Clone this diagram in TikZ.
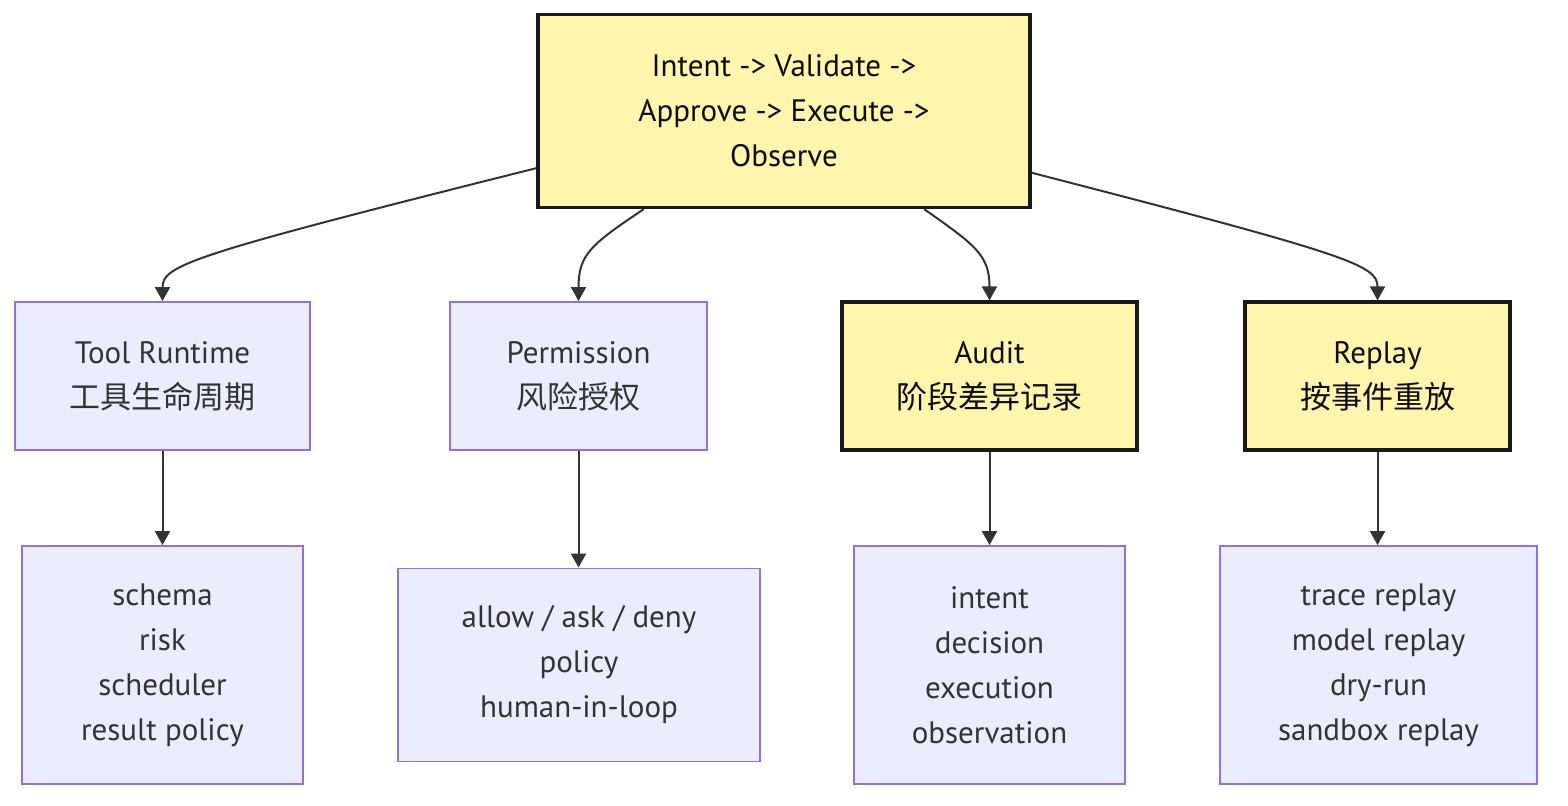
\documentclass[tikz,border=0pt]{standalone}
\usepackage{fontspec}
\setmainfont{PT Sans}
\newfontfamily\cjk{Noto Sans CJK SC}
\usetikzlibrary{arrows.meta}
\definecolor{yfill}{HTML}{FFF5AD}
\definecolor{pfill}{HTML}{ECECFF}
\definecolor{pline}{HTML}{9370DB}
\definecolor{eline}{HTML}{333333}
\begin{document}
\begin{tikzpicture}[
  x=0.5pt, y=-0.5pt,
  box/.style={rectangle, inner sep=0pt, align=center, font=\fontsize{15.5pt}{22.5pt}\selectfont},
  pnode/.style={box, fill=pfill, draw=pline, line width=0.9pt, text=eline},
  ynode/.style={box, fill=yfill, draw=black!90, line width=1.6pt, text=black!95},
  edge/.style={line width=1pt, draw=eline, -{Triangle[length=7pt,width=7.5pt]}}
]
  \useasboundingbox (0,0) rectangle (1568,806);

  % Nodo raíz con el ciclo completo
  \node[ynode, minimum width=246pt, minimum height=96.5pt] (core) at (784,111)
    {Intent -> Validate ->\\Approve -> Execute ->\\Observe};

  % Segundo nivel: cuatro módulos
  \node[pnode, minimum width=147.5pt, minimum height=74pt] (runtime) at (162.5,376)
    {Tool Runtime\\{\cjk 工具生命周期}};
  \node[pnode, minimum width=128.5pt, minimum height=74pt] (perm) at (578.5,376)
    {Permission\\{\cjk 风险授权}};
  \node[ynode, minimum width=147.5pt, minimum height=74pt] (audit) at (989.5,376)
    {Audit\\{\cjk 阶段差异记录}};
  \node[ynode, minimum width=132.5pt, minimum height=74pt] (replay) at (1377.5,376)
    {Replay\\{\cjk 按事件重放}};

  % Tercer nivel: detalles de cada módulo
  \node[pnode, minimum width=140.5pt, minimum height=119pt] (runtimeD) at (162.5,665)
    {schema\\risk\\scheduler\\result policy};
  \node[pnode, minimum width=181pt, minimum height=96.5pt] (permD) at (579,665)
    {allow / ask / deny\\policy\\human-in-loop};
  \node[pnode, minimum width=135.5pt, minimum height=119pt] (auditD) at (989.5,665)
    {intent\\decision\\execution\\observation};
  \node[pnode, minimum width=158.5pt, minimum height=119pt] (replayD) at (1378.5,665)
    {trace replay\\model replay\\dry-run\\sandbox replay};

  % Conexiones desde la raíz
  \draw[edge] (core.193) .. controls (190,255) and (162.5,265) .. (runtime.north);
  \draw[edge] (core.215) .. controls (590,245) and (578.5,255) .. (perm.north);
  \draw[edge] (core.-35) .. controls (975,245) and (989.5,255) .. (audit.north);
  \draw[edge] (core.-14) .. controls (1350,255) and (1377.5,265) .. (replay.north);

  % Conexiones verticales
  \draw[edge] (runtime.south) -- (runtime.south |- runtimeD.north);
  \draw[edge] (perm.south) -- (perm.south |- permD.north);
  \draw[edge] (audit.south) -- (audit.south |- auditD.north);
  \draw[edge] (replay.south) -- (replay.south |- replayD.north);

\end{tikzpicture}
\end{document}
